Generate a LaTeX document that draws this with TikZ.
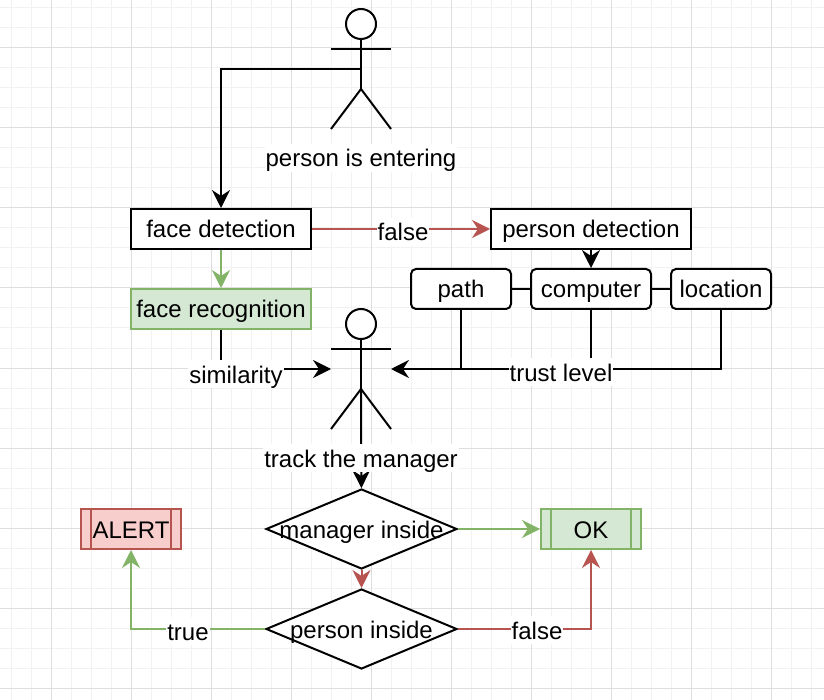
\documentclass[tikz,border=0pt]{standalone}
\usepackage{fontspec}
\setmainfont{Liberation Sans}
\usetikzlibrary{arrows.meta,shapes.geometric}
\definecolor{greenfill}{HTML}{D5E8D4}
\definecolor{greenline}{HTML}{82B366}
\definecolor{redfill}{HTML}{F8CECC}
\definecolor{redline}{HTML}{B85450}
\tikzstyle{txt}=[font=\fontsize{24}{28}\selectfont,text height=21pt,text depth=3pt]
\tikzstyle{block}=[txt,rectangle,draw,fill=white,line width=2pt,minimum width=180pt,minimum height=40pt,inner sep=0pt]
\tikzstyle{okblock}=[block,draw=greenline,fill=greenfill]
\tikzstyle{roundblock}=[block,rounded corners=5pt,minimum width=100pt]
\tikzstyle{decision}=[txt,diamond,draw,fill=white,line width=2pt,minimum width=191pt,minimum height=80pt,inner sep=0pt]
\tikzstyle{edge}=[draw,line width=2pt,-{Stealth[length=18pt,width=18pt,inset=6pt]}]
\tikzstyle{plain}=[draw,line width=2pt]
\tikzstyle{weight}=[txt,fill=white,inner xsep=1pt,inner ysep=2pt]
\tikzset{barred/.style={line width=2pt,minimum width=100pt,path picture={
    \draw[#1,line width=2pt] ([xshift=10pt]path picture bounding box.north west) -- ([xshift=10pt]path picture bounding box.south west);
    \draw[#1,line width=2pt] ([xshift=-10pt]path picture bounding box.north east) -- ([xshift=-10pt]path picture bounding box.south east);}}}
\begin{document}
\begin{tikzpicture}[x=1pt,y=-1pt]
    \useasboundingbox (0,0) rectangle (824,700);
    \fill[white] (0,0) rectangle (824,700);
    % Background grid
    \foreach \i in {0,...,41}
        \draw[black!5,line width=1pt] (11+20*\i,0) -- (11+20*\i,700);
    \foreach \i in {0,...,34}
        \draw[black!5,line width=1pt] (0,8+20*\i) -- (824,8+20*\i);
    \foreach \i in {0,...,9}
        \draw[black!13,line width=1pt] (51+80*\i,0) -- (51+80*\i,700);
    \foreach \i in {0,...,8}
        \draw[black!13,line width=1pt] (0,48+80*\i) -- (824,48+80*\i);

    % Boxes
    \foreach \pos/\name/\wid/\label in {{(221,229)/facedet/180pt/face detection}, {(591,229)/persondet/200pt/person detection}}
        \node[block,minimum width=\wid] (\name) at \pos {\label};
    \node[okblock] (facerec) at (221,309) {face recognition};
    \foreach \pos/\name/\wid in {{(461,289)/path/100pt}, {(591,289)/computer/120pt}, {(721,289)/location/100pt}}
        \node[roundblock,minimum width=\wid] (\name) at \pos {\name};
    \node[decision] (managerin) at (361.5,529) {\makebox[0pt]{manager inside}};
    \node[decision] (personin) at (361.5,629) {\makebox[0pt]{person inside}};
    \node[block,barred=redline,draw=redline,fill=redfill] (alert) at (131,529) {ALERT};
    \node[okblock,barred=greenline] (ok) at (591,529) {OK};

    % Two stick figures
    \foreach \name/\y in {enter/0, track/300} {
        \node[circle,draw,fill=white,line width=2pt,minimum size=30pt,inner sep=0pt] (\name head) at (361,24+\y) {};
        \coordinate (\name waist) at (361,69+\y);
        \coordinate (\name hip) at (361,89+\y);
        \coordinate (\name left) at (331,69+\y);
        \coordinate (\name right) at (391,69+\y);
        \draw[plain] (331,49+\y) -- (391,49+\y);
        \draw[plain] (\name head) -- (\name hip);
        \draw[plain] (331,129+\y) -- (\name hip) -- (391,129+\y);
    }

    % Connectors
    \path[edge] (enterwaist) -| (facedet);
    \path[edge,redline] (facedet) -- (persondet);
    \path[edge,greenline] (facedet) -- (facerec);
    \path[edge] (persondet) -- (computer);
    \path[plain] (path) -- (computer) -- (location);
    \path[edge] (facerec) |- (trackleft);
    \path[edge] (location) |- (trackright);
    \path[plain] (path) -- (path |- trackright);
    \path[plain] (computer) -- (computer |- trackright);
    \path[edge] (trackhip) -- (managerin);
    \path[edge,redline] (managerin) -- (personin);
    \path[edge,greenline] (managerin) -- (ok);
    \path[edge,greenline] (personin) -| (alert);
    \path[edge,redline] (personin) -| (ok);

    % Labels sit on top of the lines
    \foreach \pos/\name/\label in {{(361,158)/lblenter/person is entering}, {(403,232)/lblfalsea/false}, {(236,374)/lblsim/similarity}, {(561,372)/lbltrust/trust level}, {(361,458)/lbltrack/track the manager}, {(188,631)/lbltrue/true}, {(537,630)/lblfalseb/false}}
        \node[weight] (\name) at \pos {\label};
\end{tikzpicture}
\end{document}
